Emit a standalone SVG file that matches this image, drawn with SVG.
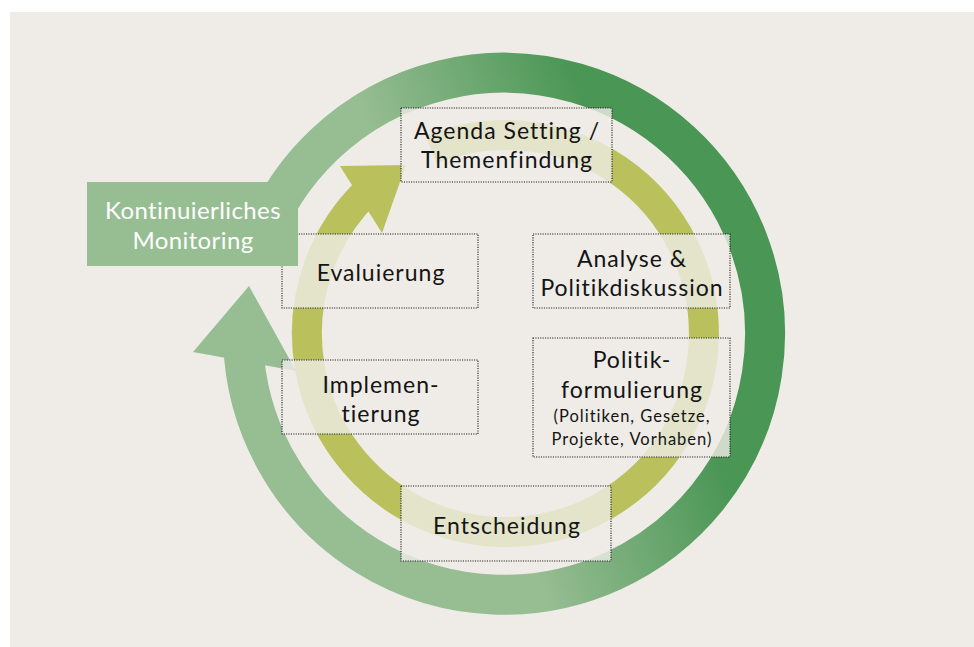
<svg xmlns="http://www.w3.org/2000/svg" width="974" height="647" viewBox="0 0 974 647">
  <defs>
    <!-- outer monitoring loop: light at lower left, dark toward upper right -->
    <linearGradient id="loopGrad" gradientUnits="userSpaceOnUse" x1="456" y1="360" x2="653" y2="286">
      <stop offset="0" stop-color="#97bd93"/>
      <stop offset="1" stop-color="#4a9655"/>
    </linearGradient>
    <style>
      .stage rect { fill: #efece7; fill-opacity: 0.8; stroke: #1a1a1a; stroke-width: 1.1; stroke-dasharray: 1.1 1.3; }
      .lbl { font-family: Lato, "Liberation Sans", sans-serif; font-size: 23px; letter-spacing: 1px; fill: #141414; text-anchor: middle; }
      .sub { font-size: 16.5px; letter-spacing: 1px; }
      .mon { font-family: Lato, "Liberation Sans", sans-serif; font-size: 24px; letter-spacing: 0.4px; fill: #ffffff; text-anchor: middle; }
    </style>
  </defs>

  <rect x="10" y="12" width="964" height="635" fill="#efece7"/>

  <!-- cycle arrows -->
  <g id="connectors">
    <!-- outer loop: continuous monitoring -->
    <path d="M258.7,244.7 A261,261 0 1 1 243.2,343.1" fill="none" stroke="url(#loopGrad)" stroke-width="40"/>
    <polygon points="249,286 296,371 193,352" fill="#97bd93"/>
    <!-- inner policy cycle -->
    <path d="M431.1,149.5 A198.5,198.5 0 1 1 367.6,190.7" fill="none" stroke="#b9c05c" stroke-width="30"/>
    <polygon points="406,165 382,233 340,166" fill="#b9c05c"/>
  </g>

  <g id="agenda" class="stage">
    <rect x="401" y="108" width="211" height="74"/>
    <text class="lbl" x="507" y="139">Agenda Setting /</text>
    <text class="lbl" x="507" y="168">Themenfindung</text>
  </g>

  <g id="analyse" class="stage">
    <rect x="533" y="234" width="197" height="74"/>
    <text class="lbl" x="632" y="267">Analyse &amp;</text>
    <text class="lbl" x="632" y="296">Politikdiskussion</text>
  </g>

  <g id="formulierung" class="stage">
    <rect x="533" y="338" width="197" height="119"/>
    <text class="lbl" x="632" y="368">Politik-</text>
    <text class="lbl" x="632" y="398">formulierung</text>
    <text class="lbl sub" x="632" y="422">(Politiken, Gesetze,</text>
    <text class="lbl sub" x="632" y="445">Projekte, Vorhaben)</text>
  </g>

  <g id="entscheidung" class="stage">
    <rect x="401" y="486" width="210" height="75"/>
    <text class="lbl" x="507" y="534">Entscheidung</text>
  </g>

  <g id="implementierung" class="stage">
    <rect x="282" y="360" width="196" height="74"/>
    <text class="lbl" x="381" y="393">Implemen-</text>
    <text class="lbl" x="381" y="422">tierung</text>
  </g>

  <g id="evaluierung" class="stage">
    <rect x="282" y="234" width="196" height="74"/>
    <text class="lbl" x="381" y="281">Evaluierung</text>
  </g>

  <g id="monitoring">
    <rect x="87" y="182" width="211" height="84" fill="#97bd93"/>
    <text class="mon" x="193" y="219">Kontinuierliches</text>
    <text class="mon" x="193" y="249">Monitoring</text>
  </g>
</svg>
